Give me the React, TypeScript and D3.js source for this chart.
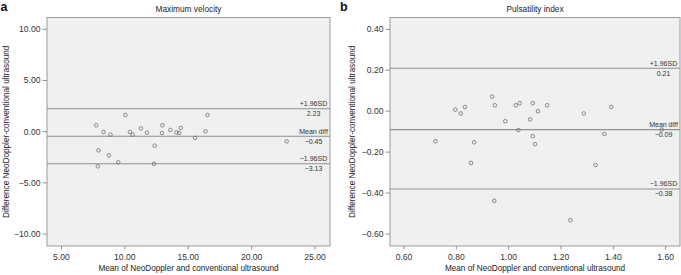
import React from "react";
import * as d3 from "d3";

// Panel a: Maximum velocity
const velMean = [7.74, 8.32, 8.87, 10.04, 10.40, 10.61, 11.27, 11.74, 12.96, 12.93, 13.59, 14.07, 14.28, 14.41, 15.54, 16.36, 16.52, 12.35, 7.92, 8.74, 9.48, 7.87, 12.30, 22.76];
const velDiff = [0.62, -0.03, -0.29, 1.63, -0.03, -0.29, 0.32, -0.10, 0.62, -0.13, 0.17, -0.07, -0.13, 0.36, -0.61, 0.03, 1.63, -1.37, -1.83, -2.32, -3.00, -3.39, -3.13, -0.95];
const velTicksX = [5, 10, 15, 20, 25];
const velTicksY = [-10, -5, 0, 5, 10];
const velLines = [
  { top: "+1.96SD", value: 2.23 },
  { top: "Mean diff", value: -0.45 },
  { top: "\u22121.96SD", value: -3.13 },
];

// Panel b: Pulsatility index
const piMean = [0.72, 0.796, 0.817, 0.833, 0.856, 0.868, 0.937, 0.947, 0.945, 0.987, 1.027, 1.042, 1.037, 1.082, 1.092, 1.092, 1.101, 1.112, 1.147, 1.236, 1.287, 1.332, 1.366, 1.392, 1.585];
const piDiff = [-0.147, 0.008, -0.011, 0.02, -0.253, -0.152, 0.071, 0.029, -0.438, -0.049, 0.029, 0.039, -0.092, -0.04, 0.039, -0.122, -0.161, 0.0, 0.029, -0.533, -0.011, -0.263, -0.111, 0.02, -0.09];
const piTicksX = [0.6, 0.8, 1.0, 1.2, 1.4, 1.6];
const piTicksY = [-0.6, -0.4, -0.2, 0.0, 0.2, 0.4];
const piLines = [
  { top: "+1.96SD", value: 0.21 },
  { top: "Mean diff", value: -0.09 },
  { top: "\u22121.96SD", value: -0.38 },
];

const FONT = "'Liberation Sans', Arial, Helvetica, sans-serif";
const fmt = (v: number) => {
  const s = Math.abs(v).toFixed(2);
  return v < -1e-9 ? "\u2212" + s : s;
};

type PanelProps = {
  letter: string;
  title: string;
  xs: number[];
  ys: number[];
  xDomain: [number, number];
  yDomain: [number, number];
  left: number;
  right: number;
  xTicks: number[];
  yTicks: number[];
  lines: { top: string; value: number }[];
  letterX: number;
  yLabelX: number;
};

function Panel(p: PanelProps) {
  const top = 17.5;
  const bottom = 246;
  const x = d3.scaleLinear().domain(p.xDomain).range([p.left, p.right]);
  const y = d3.scaleLinear().domain(p.yDomain).range([bottom, top]);
  const cx = (p.left + p.right) / 2;
  const cy = (top + bottom) / 2;
  const labelX = p.right - 16.5;
  return (
    <g fontFamily={FONT}>
      <text x={p.letterX} y={10.5} fontSize={12.5} fontWeight="bold" fill="#111">
        {p.letter}
      </text>
      <text x={cx} y={12} fontSize={8.3} textAnchor="middle" fill="#222">
        {p.title}
      </text>
      <rect x={p.left} y={top} width={p.right - p.left} height={bottom - top} fill="#f0f0f0" stroke="#9a9a9a" strokeWidth={1} />
      {p.lines.map((l, i) => (
        <g key={i}>
          <line x1={p.left} x2={p.right} y1={y(l.value)} y2={y(l.value)} stroke="#8f8f8f" strokeWidth={1.1} />
          <text x={labelX} y={y(l.value) - 2.5} fontSize={7} textAnchor="middle" fill="#333">
            {l.top}
          </text>
          <text x={labelX} y={y(l.value) + 7.5} fontSize={7} textAnchor="middle" fill="#333">
            {fmt(l.value)}
          </text>
        </g>
      ))}
      {p.xs.map((v, i) => (
        <circle key={i} cx={x(v)} cy={y(p.ys[i])} r={1.8} fill="none" stroke="#6f6f6f" strokeWidth={0.8} />
      ))}
      {p.yTicks.map((t) => (
        <g key={"y" + t}>
          <line x1={p.left - 4.5} x2={p.left} y1={y(t)} y2={y(t)} stroke="#777" strokeWidth={0.8} />
          <text x={p.left - 6.5} y={y(t) + 3} fontSize={8.6} textAnchor="end" fill="#333">
            {fmt(t)}
          </text>
        </g>
      ))}
      {p.xTicks.map((t) => (
        <g key={"x" + t}>
          <line x1={x(t)} x2={x(t)} y1={bottom} y2={bottom + 3.5} stroke="#777" strokeWidth={0.8} />
          <text x={x(t)} y={260} fontSize={8.6} textAnchor="middle" fill="#333">
            {fmt(t)}
          </text>
        </g>
      ))}
      <text x={cx} y={271} fontSize={8.2} textAnchor="middle" fill="#222">
        Mean of NeoDoppler and conventional ultrasound
      </text>
      <text
        transform={`translate(${p.yLabelX},${cy}) rotate(-90)`}
        fontSize={8.2}
        textAnchor="middle"
        fill="#222"
      >
        Difference NeoDoppler-conventional ultrasound
      </text>
    </g>
  );
}

export default function App() {
  return (
    <svg width={681} height={275} style={{ position: "absolute", left: 0, top: 0, background: "#fff" }}>
      <Panel
        letter="a"
        title="Maximum velocity"
        xs={velMean}
        ys={velDiff}
        xDomain={[3.86, 26.18]}
        yDomain={[-11.17, 11.15]}
        left={47}
        right={330}
        xTicks={velTicksX}
        yTicks={velTicksY}
        lines={velLines}
        letterX={0.5}
        yLabelX={8.5}
      />
      <Panel
        letter="b"
        title="Pulsatility index"
        xs={piMean}
        ys={piDiff}
        xDomain={[0.5465, 1.6546]}
        yDomain={[-0.6586, 0.4577]}
        left={390}
        right={680}
        xTicks={piTicksX}
        yTicks={piTicksY}
        lines={piLines}
        letterX={340}
        yLabelX={355}
      />
    </svg>
  );
}
